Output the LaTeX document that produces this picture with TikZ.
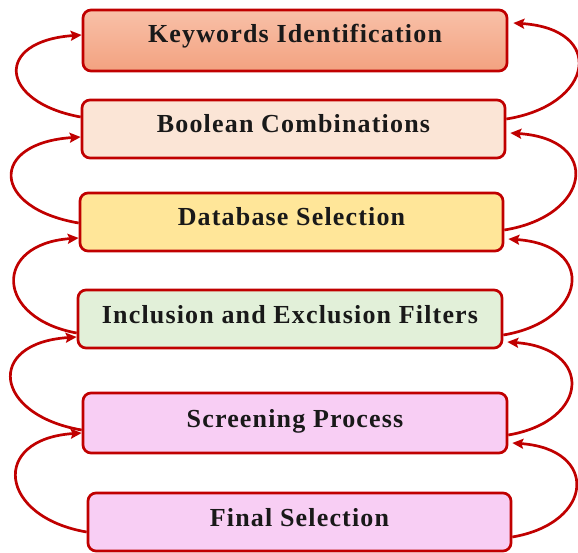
\documentclass[tikz,border=0pt]{standalone}
\usepackage{fontspec}
\setmainfont{Liberation Serif}[LetterSpace=4.5]
\usetikzlibrary{arrows.meta}
\definecolor{edge}{HTML}{C00000}
\definecolor{kwtop}{RGB}{248,192,168}
\definecolor{kwbot}{RGB}{243,162,128}
\definecolor{boolfill}{HTML}{FBE5D6}
\definecolor{dbfill}{HTML}{FFE699}
\definecolor{incfill}{HTML}{E2F0D9}
\definecolor{pinkfill}{HTML}{F8CEF4}
\begin{document}
\begin{tikzpicture}[x=1pt,y=-1pt,
  stage/.style={draw=edge, line width=2.7pt, rounded corners=8pt,
    minimum width=424pt, minimum height=58pt, inner sep=0pt,
    text height=17pt, text depth=9pt, text=black!90,
    font=\fontsize{26}{29}\selectfont\bfseries},
  loop/.style={draw=edge, line width=2.7pt,
    -{Stealth[length=11pt,width=10pt,inset=2pt]}}]
\useasboundingbox (0,0) rectangle (578,553);

% the six stages, top to bottom
\node[stage, minimum height=61pt, text depth=13pt, top color=kwtop, bottom color=kwbot] (kw) at (295,40.5) {Keywords Identification};
\node[stage, minimum width=423pt, fill=boolfill] (bool) at (293.5,129) {Boolean Combinations};
\node[stage, minimum width=423pt, fill=dbfill] (db) at (291.5,222) {Database Selection};
\node[stage, fill=incfill] (inc) at (290,319) {Inclusion and Exclusion Filters};
\node[stage, minimum height=60pt, fill=pinkfill] (scr) at (295,423) {Screening Process};
\node[stage, minimum width=423pt, fill=pinkfill] (fin) at (299.5,522) {Final Selection};

% feedback loops on the left
\draw[loop] ([yshift=12pt]bool.west) .. controls +(-82,-15) and +(-88,6) .. ([yshift=5.5pt]kw.west);
\draw[loop] ([yshift=-1pt]db.west) .. controls +(-88,-15) and +(-92,6) .. ([yshift=-8pt]bool.west);
\draw[loop] ([yshift=-14pt]inc.west) .. controls +(-82,-15) and +(-86,6) .. ([yshift=-16pt]db.west);
\draw[loop] ([yshift=-7pt]scr.west) .. controls +(-88,-15) and +(-92,6) .. ([yshift=-18pt]inc.west);
\draw[loop] ([yshift=-10pt]fin.west) .. controls +(-88,-15) and +(-92,6) .. ([yshift=-10pt]scr.west);

% feedback loops on the right
\draw[loop] ([yshift=10pt]bool.east) .. controls +(88,-14) and +(93,6) .. ([xshift=5pt,yshift=17.5pt]kw.east);
\draw[loop] ([yshift=-8pt]db.east) .. controls +(87,-14) and +(92,6) .. ([xshift=4pt,yshift=-4pt]bool.east);
\draw[loop] ([yshift=-16pt]inc.east) .. controls +(84,-14) and +(89,6) .. ([xshift=4pt,yshift=-17pt]db.east);
\draw[loop] ([yshift=-12pt]scr.east) .. controls +(82,-14) and +(86,6) .. ([xshift=4pt,yshift=-23pt]inc.east);
\draw[loop] ([yshift=-15pt]fin.east) .. controls +(82,-14) and +(87,6) .. ([xshift=4pt,yshift=-20pt]scr.east);
\end{tikzpicture}
\end{document}
